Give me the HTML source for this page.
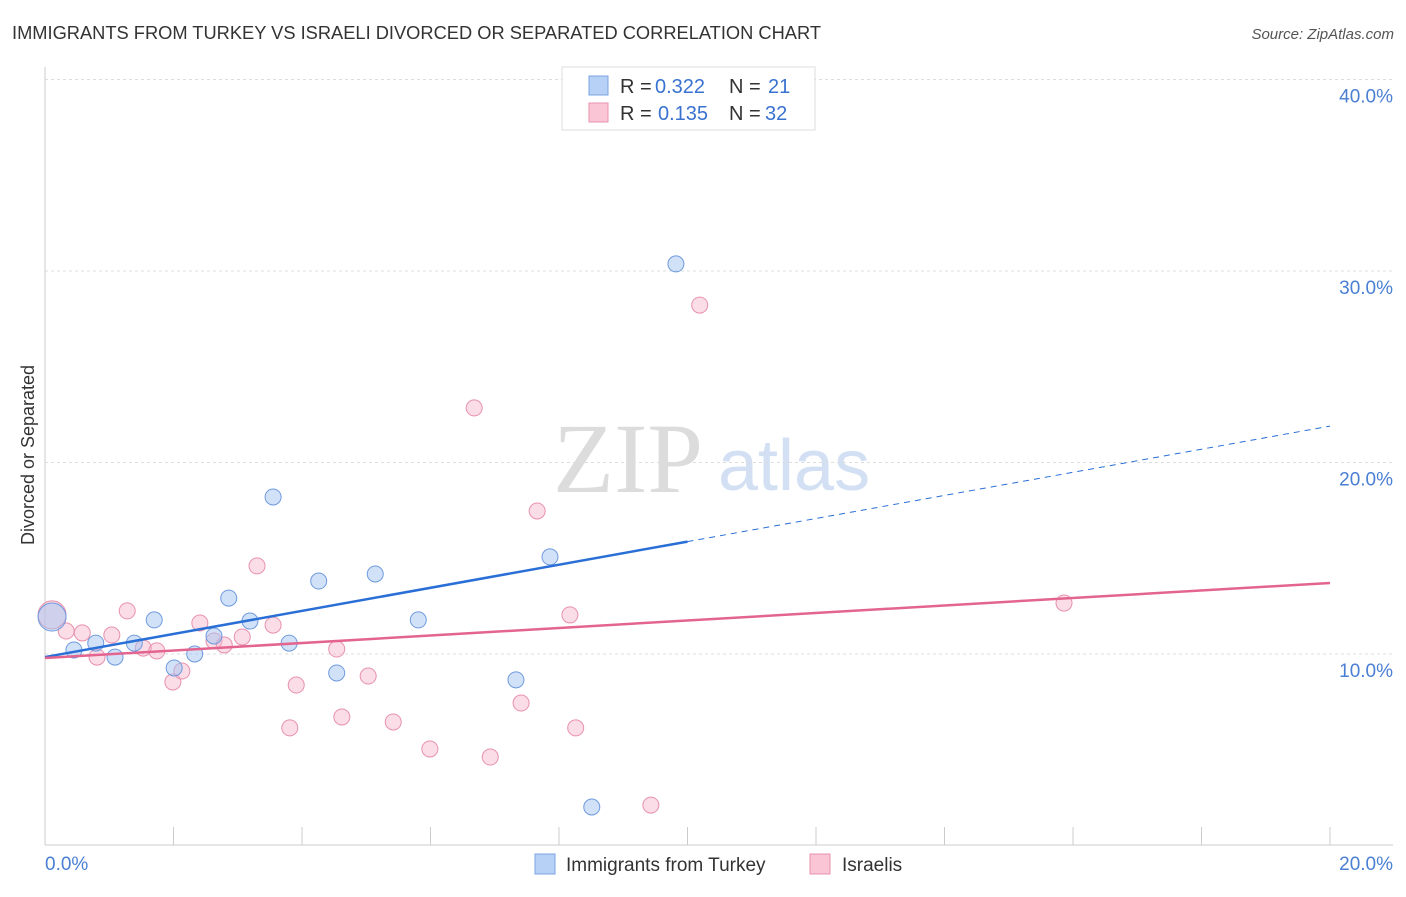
<!DOCTYPE html>
<html><head><meta charset="utf-8"><style>
body{margin:0;background:#fff;font-family:"Liberation Sans",sans-serif;}
svg text{font-family:"Liberation Sans",sans-serif;}
</style></head><body>
<svg id="chart" width="1406" height="892" xmlns="http://www.w3.org/2000/svg">
<text x="12" y="39" font-size="18" fill="#333" textLength="809" lengthAdjust="spacingAndGlyphs">IMMIGRANTS FROM TURKEY VS ISRAELI DIVORCED OR SEPARATED CORRELATION CHART</text>
<text x="1394" y="39" font-size="15" fill="#555" font-style="italic" text-anchor="end">Source: ZipAtlas.com</text>
<text x="553" y="492" font-size="100" fill="#dcdcdc" style="font-family:'Liberation Serif',serif">ZIP</text>
<text x="718" y="490" font-size="72" fill="#d3e0f4">atlas</text>
<text transform="translate(34,455) rotate(-90)" font-size="18" fill="#333" text-anchor="middle">Divorced or Separated</text>
<g id="grid"></g><g id="marks"></g>
<g>
<rect x="562" y="67" width="253" height="63" fill="#fff" stroke="#ddd"/>
<rect x="589" y="76" width="19" height="19" fill="#b7d0f5" stroke="#7ba3e0"/>
<text x="620" y="93" font-size="20" fill="#333">R =</text>
<text x="655" y="93" font-size="20" fill="#3a72d0">0.322</text>
<text x="729" y="93" font-size="20" fill="#333">N =</text>
<text x="768" y="93" font-size="20" fill="#3a72d0">21</text>
<rect x="589" y="103" width="19" height="19" fill="#fac6d6" stroke="#e891ad"/>
<text x="620" y="120" font-size="20" fill="#333">R =</text>
<text x="658" y="120" font-size="20" fill="#3a72d0">0.135</text>
<text x="729" y="120" font-size="20" fill="#333">N =</text>
<text x="765" y="120" font-size="20" fill="#3a72d0">32</text>
</g>
<g>
<rect x="535" y="854" width="20" height="20" fill="#b7d0f5" stroke="#7ba3e0"/>
<text x="566" y="871" font-size="19" fill="#333">Immigrants from Turkey</text>
<rect x="810" y="854" width="20" height="20" fill="#fac6d6" stroke="#e891ad"/>
<text x="842" y="871" font-size="19" fill="#333">Israelis</text>
</g>
</svg>
<script>
const yTicks=[10,20,30,40];
const xTickLabels=["0.0%","20.0%"];
const blueX=[0.11,0.45,0.79,1.09,1.39,1.70,2.01,2.33,2.63,2.86,3.19,3.55,3.80,4.26,4.54,5.14,5.81,7.33,7.86,8.51,9.82];
const blueY=[11.93,10.21,10.57,9.84,10.57,11.78,9.27,10.0,10.94,12.92,11.72,18.20,10.57,13.81,9.01,14.18,11.78,8.65,15.07,2.01,30.37];
const pinkX=[0.11,0.33,0.58,0.81,1.04,1.28,1.53,1.74,1.99,2.13,2.41,2.63,2.79,3.07,3.30,3.55,3.81,3.91,4.54,4.62,5.03,5.42,5.99,6.68,6.93,7.41,7.66,8.17,8.26,9.43,10.19,15.86];
const pinkY=[12.04,11.20,11.10,9.84,10.99,12.25,10.31,10.16,8.54,9.11,11.62,10.68,10.47,10.89,14.60,11.51,6.14,8.38,10.26,6.71,8.85,6.45,5.04,22.85,4.62,7.44,17.47,12.04,6.14,2.11,28.22,12.66];
const blueTrend=[9.84,21.9];
const pinkTrend=[9.79,13.71];
const NS="http://www.w3.org/2000/svg";
const sx=v=>45+v*64.25, sy=v=>845.5-v*19.15;
const grid=document.getElementById('grid'), marks=document.getElementById('marks');
function mk(p,tag,a){const e=document.createElementNS(NS,tag);for(const k in a)e.setAttribute(k,a[k]);p.appendChild(e);return e;}
let e=mk(grid,'line',{x1:45,x2:45,y1:67,y2:845,stroke:'#ccc'});


e=mk(grid,'line',{x1:45,x2:1393,y1:845,y2:845,stroke:'#ccc'});


yTicks.forEach(t=>{
 let g=mk(grid,'line',{x1:45,x2:1393,y1:sy(t),y2:sy(t),stroke:'#ddd','stroke-dasharray':'3,3'});
 
 
 let l=mk(grid,'text',{x:1393,y:sy(t)+23,'font-size':19,fill:'#4a7fd4','text-anchor':'end'});l.textContent=t.toFixed(1)+'%';
 
 
});
for(let i=0;i<=10;i++){let t=mk(grid,'line',{x1:sx(i*2),x2:sx(i*2),y1:827,y2:845,stroke:'#ccc'});
 
 }
let l0=mk(grid,'text',{x:45,y:870,'font-size':19,fill:'#4a7fd4'});l0.textContent=xTickLabels[0];


let l1=mk(grid,'text',{x:1393,y:870,'font-size':19,fill:'#4a7fd4','text-anchor':'end'});l1.textContent=xTickLabels[1];


function pts(xs,ys,fill,stroke,name){xs.forEach((x,i)=>{let c=mk(marks,'circle',{cx:sx(x),cy:sy(ys[i]),r:i===0?14:8,fill:fill,stroke:stroke,'stroke-width':1});
 
 });}
pts(pinkX,pinkY,'rgba(246,180,202,0.45)','#e891ad','israelis-point');
pts(blueX,blueY,'rgba(164,196,240,0.5)','#6f9ade','turkey-point');
const bAt=x=>blueTrend[0]+(blueTrend[1]-blueTrend[0])*x/20, pAt=x=>pinkTrend[0]+(pinkTrend[1]-pinkTrend[0])*x/20;
let b1=mk(marks,'line',{x1:sx(0),y1:sy(bAt(0)),x2:sx(10),y2:sy(bAt(10)),stroke:'#2a6fd6','stroke-width':2.5});


let b2=mk(marks,'line',{x1:sx(10),y1:sy(bAt(10)),x2:sx(20),y2:sy(bAt(20)),stroke:'#2a6fd6','stroke-width':1,'stroke-dasharray':'6,5'});


let p1=mk(marks,'line',{x1:sx(0),y1:sy(pAt(0)),x2:sx(20),y2:sy(pAt(20)),stroke:'#e3658f','stroke-width':2.5});


</script>
</body></html>
